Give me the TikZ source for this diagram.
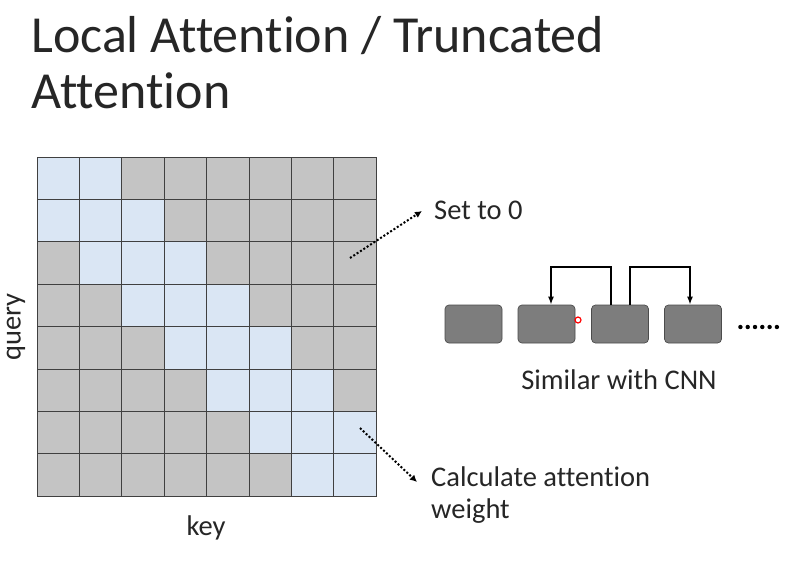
\documentclass[tikz,border=0pt]{standalone}
\usepackage{fontspec}
\setmainfont[Ligatures={NoCommon}]{Carlito}
\usetikzlibrary{arrows.meta}
\definecolor{lb}{RGB}{218,230,244}
\definecolor{gc}{RGB}{196,196,196}
\definecolor{tk}{RGB}{125,125,125}
\begin{document}
\begin{tikzpicture}[x=1pt,y=-1pt,
  cell/.style={draw=black!75,line width=0.6pt},
  tok/.style={draw=black!70,fill=tk,rounded corners=4pt,line width=0.7pt,minimum width=57pt,minimum height=38pt,inner sep=0pt},
  dotarr/.style={line width=2pt,dash pattern=on 2pt off 2pt,-{Latex[length=7pt,width=7pt]}},
  conn/.style={line width=1.5pt,-{Latex[length=8pt,width=6pt]}},
  txt/.style={font=\fontsize{28.5}{32}\selectfont,text=black!85,inner sep=0pt}]
\useasboundingbox (0,0) rectangle (794,578);
\fill[white] (0,0) rectangle (794,578);
\node[anchor=west,font=\fontsize{52}{58}\selectfont,text=black!85,inner sep=0pt] (t1) at (31,36) {Local Attention / Truncated};
\node[anchor=west,font=\fontsize{52}{58}\selectfont,text=black!85,inner sep=0pt] (t2) at (31,91) {Attention};
\def\cs{42.375}
\foreach \r in {0,...,7}{\foreach \c in {0,...,7}{
  \pgfmathtruncatemacro\d{abs(\c-\r)}
  \ifnum\d<2 \def\fc{lb}\else\def\fc{gc}\fi
  \draw[cell,fill=\fc] (37+\c*\cs,157+\r*\cs) rectangle ++(\cs,\cs);
}}
\node[txt,rotate=90] (q) at (16,327) {query};
\node[txt] (k) at (206,528) {key};
\coordinate (s0) at (350,258);
\coordinate (s1) at (422,211);
\draw[dotarr] (s0) -- (s1);
\node[txt,anchor=west] (set) at (434,210) {Set to 0};
\coordinate (c0) at (360,428);
\coordinate (c1) at (417,482);
\draw[dotarr] (c0) -- (c1);
\node[txt,anchor=west] (calc1) at (431,477) {Calculate attention};
\node[txt,anchor=west] (calc2) at (431,511) {weight};
\node[tok] (b1) at (473.5,324) {};
\node[tok] (b2) at (546.5,324) {};
\node[tok] (b3) at (620,324) {};
\node[tok] (b4) at (693,324) {};
\node[anchor=west,inner sep=0pt] (dots) at (738,327) {\tikz[x=1pt]{\foreach \i in {0,...,5}{\fill (\i*7.3,0) circle (2.2pt);}}};
\draw[conn] (b3.north -| 611,0) -- (611,267) -- (551,267) -- (b2.north -| 551,0);
\draw[conn] (b3.north -| 630,0) -- (630,267) -- (690,267) -- (b4.north -| 690,0);
\node[txt] (sim) at (619,380) {Similar with CNN};
\node[circle,draw=red,line width=1.2pt,fill=white,inner sep=0pt,minimum size=6pt] (ptr) at (578,320) {};
\end{tikzpicture}
\end{document}
